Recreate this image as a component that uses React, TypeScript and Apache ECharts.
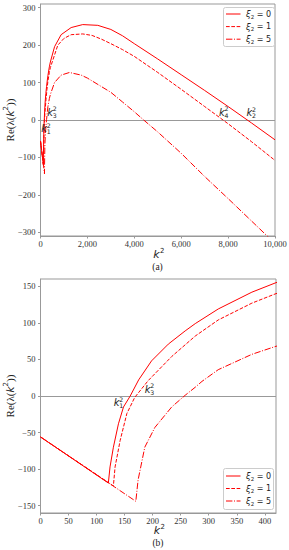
import React, { useEffect, useRef } from 'react';
import * as echarts from 'echarts';

// ---- data (k^2 vs Re(lambda(k^2))) ----
const xi0K2 = [0, 121, 124, 130, 139, 148, 160, 175, 198, 228, 258, 276, 317, 377, 420, 600, 880, 1306, 1800, 2443, 3000, 3500, 4000, 5000, 6000, 7000, 8000, 9000, 10000];
const xi0Re = [-56, -119, -97, -70, -38, -15, 0, 22, 48, 71, 89, 99, 119, 142, 155, 196, 228, 247, 255, 253, 242, 225, 204, 163, 121, 79, 36, -8, -53];

const xi1K2 = [0, 130, 133, 142, 154, 168, 192, 234, 276, 317, 377, 420, 738, 1000, 1306, 1800, 2200, 2600, 3000, 3500, 4000, 5000, 6000, 7000, 8000, 9000, 10000];
const xi1Re = [-56, -123, -97, -61, -24, -2, 21, 54, 82, 104, 127, 140, 200, 218, 228, 230, 226, 216, 204, 188, 170, 127, 82, 36, -10, -58, -108];

const xi5K2 = [0, 170, 174, 186, 204, 234, 258, 276, 288, 317, 377, 420, 597, 880, 1236, 1733, 2000, 2500, 3000, 3500, 4000, 4400, 5000, 6000, 7000, 8000, 9000, 10000];
const xi5Re = [-56, -144, -115, -70, -43, -15, 1, 12, 20, 36, 57, 68, 100, 120, 127, 120, 112, 93, 74, 48, 22, 0, -32, -89, -151, -210, -270, -330];

const seriesNames = ['xi0', 'xi1', 'xi5'];
const xi2Values = ['0', '1', '5'];

const topXTicks = [0, 2000, 4000, 6000, 8000, 10000];
const topYTicks = [-300, -200, -100, 0, 100, 200, 300];
const bottomXTicks = [0, 50, 100, 150, 200, 250, 300, 350, 400];
const bottomYTicks = [-150, -100, -50, 0, 50, 100, 150];

// root labels k_i^2 (subscripts), positions kept in a separate layout table
const topRootSubs = ['1', '3', '4', '2'];
const bottomRootSubs = ['1', '3'];

// ---- layout / style ----
const topRootPos = [[44.2, 128.8], [50.2, 112.3], [222, 112], [249.5, 112.5]];
const bottomRootPos = [[116.7, 402.5], [147.7, 389]];
// legend boxes: [left, top, width, height, firstRowY, rowStep]
const topLegendBox = [223, 7, 51, 39, 14, 12.6];
const bottomLegendBox = [223, 468, 50, 41, 476, 12.5];

const RED = '#ff0000';
const AX = '#999999';
const LBL = '#333333';
const SERIF = "'Liberation Serif', 'DejaVu Serif', serif";
const SANS = "'DejaVu Sans', sans-serif";

const dashes: any[] = ['solid', [3.7, 1.6], [6.4, 1.6, 1, 1.6]];
const dataSets = [
  [xi0K2, xi0Re],
  [xi1K2, xi1Re],
  [xi5K2, xi5Re],
];

const minus = (v: number) => (v < 0 ? '\u2212' + Math.abs(v) : String(v));

function txt(x: number, y: number, text: string, size: number, family: string, italic: boolean, align: string) {
  return {
    type: 'text',
    silent: true,
    z: 10,
    style: {
      x, y, text, fontFamily: family, fontStyle: italic ? 'italic' : 'normal', fontSize: size, fill: '#222',
      align, verticalAlign: 'middle', textAlign: align, textVerticalAlign: 'middle',
    },
  };
}

function kLabel(cx: number, cy: number, sub: string) {
  return {
    type: 'group',
    silent: true,
    children: [
      txt(cx, cy, 'k', 10, SANS, true, 'center'),
      txt(cx + 2.6, cy - 3.5, '2', 6.2, SANS, false, 'left'),
      txt(cx + 2.6, cy + 3.1, sub, 6.2, SANS, false, 'left'),
    ],
  };
}

function axisName(cx: number, cy: number, caption: string) {
  return [
    txt(cx - 1, cy, 'k', 11, SANS, true, 'center'),
    txt(cx + 2.4, cy - 4, '2', 7, SANS, false, 'left'),
    txt(cx, cy + 12.5, caption, 9.5, SERIF, false, 'center'),
  ];
}

const legendRich = {
  n: { fontFamily: SANS, fontSize: 8, fill: '#222', color: '#222', lineHeight: 11 },
  i: { fontFamily: SANS, fontStyle: 'italic', fontSize: 8.5, fill: '#222', color: '#222', lineHeight: 11 },
  s: { fontFamily: SANS, fontSize: 5.5, fill: '#222', color: '#222', lineHeight: 6, verticalAlign: 'bottom' },
};

function legendGraphic(box: number[]) {
  const [l, t, w, h, y0, step] = box;
  const children: any[] = [
    {
      type: 'rect',
      silent: true,
      shape: { x: l + 0.5, y: t + 0.5, width: w, height: h, r: 2 },
      style: { fill: 'rgba(255,255,255,0.9)', stroke: '#cccccc', lineWidth: 1 },
    },
  ];
  seriesNames.forEach((_, i) => {
    const y = y0 + i * step;
    children.push({
      type: 'line',
      silent: true,
      shape: { x1: l + 3, y1: y, x2: l + 17.5, y2: y },
      style: { stroke: RED, lineWidth: 1, lineDash: i === 0 ? null : dashes[i] },
    });
    children.push({
      type: 'text',
      silent: true,
      style: {
        x: l + 23, y, text: '{i|ξ}{s|2}{n| = ' + xi2Values[i] + '}', rich: legendRich,
        fontFamily: SANS, fontSize: 8, fill: '#222',
        align: 'left', verticalAlign: 'middle', textAlign: 'left', textVerticalAlign: 'middle',
      },
    });
  });
  return { type: 'group', silent: true, z: 20, children };
}

const yNameRich = {
  r: { fontFamily: SERIF, fontSize: 11, color: '#222', lineHeight: 14 },
  k: { fontFamily: SANS, fontStyle: 'italic', fontSize: 10.5, color: '#222', lineHeight: 14 },
  s: { fontFamily: SANS, fontSize: 7, color: '#222', lineHeight: 8, verticalAlign: 'top' },
};

function valueAxis(gridIndex: number, min: number, max: number, ticks: number[], fmt: (v: number) => string, isY: boolean) {
  const ax: any = {
    type: 'value',
    gridIndex,
    min,
    max,
    axisLine: { show: true, onZero: false, lineStyle: { color: AX, width: 1 } },
    axisTick: { show: true, inside: false, length: 2.5, lineStyle: { color: AX, width: 1 }, customValues: ticks },
    axisLabel: {
      show: true, margin: isY ? 5 : 3, color: LBL, fontFamily: SERIF, fontSize: 8.5,
      customValues: ticks, formatter: (v: number) => fmt(v), hideOverlap: false,
    },
    splitLine: { show: false },
  };
  if (isY) {
    ax.name = '{r|Re(λ(}{k|k}{s|2}{r|))}';
    ax.nameLocation = 'middle';
    ax.nameGap = 24;
    ax.nameMoveOverlap = false;
    ax.nameRotate = 90;
    ax.nameTextStyle = { rich: yNameRich, fontFamily: SERIF, fontSize: 11, color: '#222' };
  }
  return ax;
}

function makeSeries(gi: number) {
  return dataSets.map((d, i) => {
    const s: any = {
      type: 'line',
      name: seriesNames[i],
      xAxisIndex: gi,
      yAxisIndex: gi,
      data: d[0].map((k, j) => [k, d[1][j]]),
      symbol: 'none',
      showSymbol: false,
      clip: true,
      silent: true,
      z: 3,
      lineStyle: { color: RED, width: 1, type: dashes[i] },
      itemStyle: { color: RED },
    };
    if (i === 0) {
      s.markLine = {
        silent: true,
        symbol: ['none', 'none'],
        label: { show: false },
        lineStyle: { color: AX, width: 1, type: 'solid' },
        data: [{ yAxis: 0 }],
        z: 2,
      };
    }
    return s;
  });
}

export default function App() {
  const ref = useRef<HTMLDivElement>(null);
  useEffect(() => {
    if (!ref.current) return;
    const chart = echarts.init(ref.current, undefined, { renderer: 'svg' });
    const graphics: any[] = [];
    topRootSubs.forEach((s, i) => graphics.push(kLabel(topRootPos[i][0], topRootPos[i][1], s)));
    bottomRootSubs.forEach((s, i) => graphics.push(kLabel(bottomRootPos[i][0], bottomRootPos[i][1], s)));
    graphics.push(...axisName(157.5, 254.5, '(a)'));
    graphics.push(...axisName(158, 530.5, '(b)'));
    graphics.push(legendGraphic(topLegendBox));
    graphics.push(legendGraphic(bottomLegendBox));

    chart.setOption({
      animation: false,
      backgroundColor: '#ffffff',
      grid: [
        { left: 40.5, right: 14, top: 4, bottom: 314, show: true, borderColor: AX, borderWidth: 1, containLabel: false, outerBoundsMode: 'none' },
        { left: 40.5, right: 13, top: 279, bottom: 37, show: true, borderColor: AX, borderWidth: 1, containLabel: false, outerBoundsMode: 'none' },
      ],
      xAxis: [
        valueAxis(0, 0, 10000, topXTicks, (v) => v.toLocaleString('en-US'), false),
        valueAxis(1, 0, 420, bottomXTicks, (v) => String(v), false),
      ],
      yAxis: [
        valueAxis(0, -310, 310, topYTicks, minus, true),
        valueAxis(1, -160, 160, bottomYTicks, minus, true),
      ],
      series: [...makeSeries(0), ...makeSeries(1)],
      graphic: graphics,
    });
    return () => chart.dispose();
  }, []);
  return <div ref={ref} style={{ position: 'fixed', left: 0, top: 0, width: 289, height: 550 }} />;
}
